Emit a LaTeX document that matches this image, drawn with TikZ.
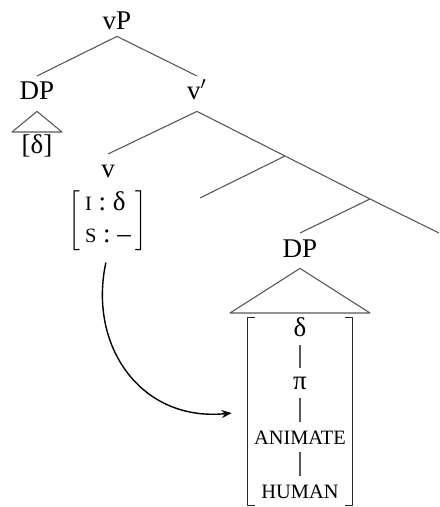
\documentclass[tikz,border=0pt]{standalone}
\usepackage{fontspec}
\setmainfont{Liberation Serif}
\usetikzlibrary{calc,fit,arrows.meta}
\newcommand{\fsc}[1]{{\fontsize{10.2}{12}\selectfont #1}}
\tikzset{
  tn/.style={anchor=base, inner sep=3pt, text height=8.8pt, text depth=2.5pt},
  feat/.style={anchor=base, inner sep=4pt},
  edge/.style={line width=0.55pt, black!65},
  brk/.style={line width=0.6pt, black!85}
}
\begin{document}
\begin{tikzpicture}[x=0.5pt, y=-0.5pt, line join=round, font=\fontsize{13.5}{16}\selectfont]
  \useasboundingbox (0,0) rectangle (439,507);
  \path
  (285,156) coordinate (j1)
  (370,199) coordinate (j2)
  (439,233) coordinate (jend)
  (200,198) coordinate (j1l)
  (230,313) coordinate (tbl)
  (370,313) coordinate (tbr)
  ;
  % tree labels
  \node[tn, text depth=0pt] (vp) at (117,30) {vP};
  \node[tn] (dpa) at (37,100) {DP};
  \node[tn] (vbar) at (197,100) {v$'$};
  \node[tn] (v) at (108,178) {v};
  \node[tn] (dpb) at (300,257) {DP};
  \node[anchor=north, inner sep=1pt] (dpaleaf) at (37,132) {[δ]};
  \node[anchor=north, inner sep=0pt] (vfeat) at (108,188)
    {$\left[\begin{tabular}{@{\,}l@{\,}}\fsc{I} : δ\\ \fsc{S} : –\end{tabular}\right]$};
  % features of the lower DP
  \node[feat] (fd) at (300,336) {δ};
  \node[feat] (fpi) at (300,389) {π};
  \node[feat] (fan) at (300,444) {\fsc{ANIMATE}};
  \node[feat] (fhu) at (300,498) {\fsc{HUMAN}};
  \node[fit={(248,318) (352,505)}, inner sep=0pt] (dpbfeat) {};
  % branches
  \draw[edge] (dpa.north) -- (vp.south) -- (vbar.north);
  \draw[edge] (v.north) -- (vbar.south) -- (j1) -- (j2) -- (jend);
  \draw[edge] (j1l) -- (j1);
  \draw[edge] (j2) -- (dpb.north);
  \draw[edge] (dpa.south) -- ($(dpaleaf.north)+(-25,0)$) -- ($(dpaleaf.north)+(25,0)$) -- cycle;
  \draw[edge] (dpb.south) -- (tbl) -- (tbr) -- cycle;
  \foreach \a/\b in {fd/fpi,fpi/fan,fan/fhu} \draw[edge] (\a) -- (\b);
  % brackets
  \draw[brk] ($(dpbfeat.north west)+(7,0)$) -| (dpbfeat.south west) -- ++(7,0);
  \draw[brk] ($(dpbfeat.north east)+(-7,0)$) -| (dpbfeat.south east) -- ++(-7,0);
  % arrow
  \draw[-{Stealth[length=5pt,width=4pt]}, line width=0.7pt, shorten <=5pt, shorten >=8pt]
    (vfeat.south) .. controls (88,345) and (140,422) .. (dpbfeat.west);
\end{tikzpicture}
\end{document}
